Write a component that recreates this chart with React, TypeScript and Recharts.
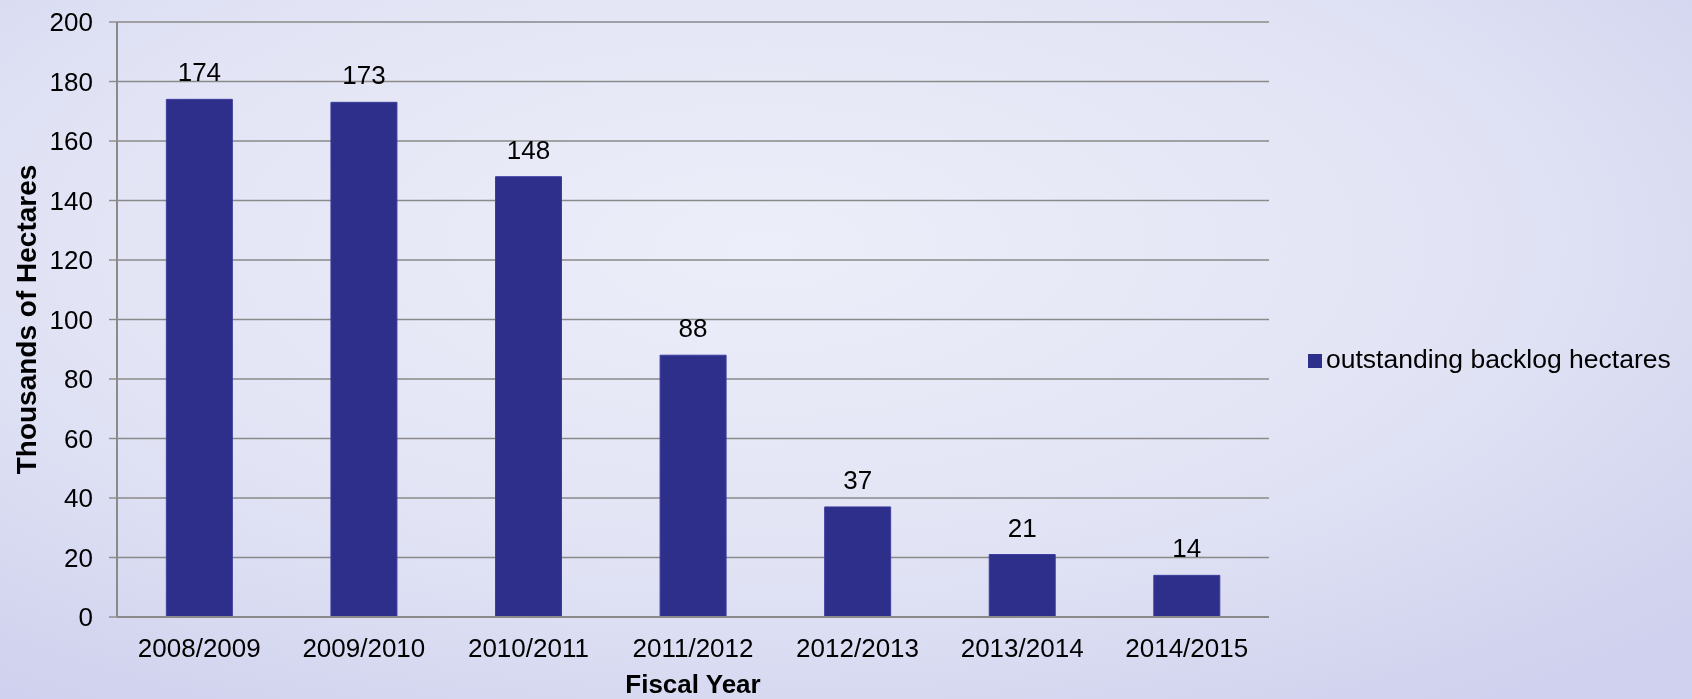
import { Bar, BarChart, CartesianGrid, LabelList, Legend, XAxis, YAxis } from "recharts";

const fiscalYears = ["2008/2009", "2009/2010", "2010/2011", "2011/2012", "2012/2013", "2013/2014", "2014/2015"];
const backlogHectares = [174, 173, 148, 88, 37, 21, 14];
const yTicks = [0, 20, 40, 60, 80, 100, 120, 140, 160, 180, 200];

const data = fiscalYears.map((year, i) => ({ year, backlog: backlogHectares[i] }));

const FONT = '"Liberation Sans", Arial, sans-serif';
const AXIS_GRAY = "#8a8a8a";

export default function App() {
  return (
    <div
      style={{
        position: "fixed",
        left: 0,
        top: 0,
        width: 1692,
        height: 699,
        fontFamily: FONT,
        background:
          "radial-gradient(ellipse 75% 80% at 45% 35%, #eceef9 0%, #e2e4f5 55%, #cfd1ee 100%)",
      }}
    >
      <BarChart
        width={1692}
        height={699}
        data={data}
        margin={{ top: 22, right: 423, bottom: 0, left: 0 }}
        barCategoryGap="30%"
      >
        <CartesianGrid vertical={false} stroke={AXIS_GRAY} strokeWidth={1.4} />
        <XAxis
          dataKey="year"
          height={82}
          interval={0}
          tickLine={false}
          tickSize={6}
          tickMargin={16}
          axisLine={{ stroke: AXIS_GRAY, strokeWidth: 2 }}
          tick={{ fill: "#000", fontSize: 26, fontFamily: FONT }}
          label={{
            value: "Fiscal Year",
            position: "insideBottom",
            offset: 6,
            style: { fill: "#000", fontSize: 26, fontWeight: "bold", fontFamily: FONT },
          }}
        />
        <YAxis
          width={117}
          domain={[0, 200]}
          ticks={yTicks}
          interval={0}
          tickSize={8}
          tickMargin={16}
          tickLine={{ stroke: AXIS_GRAY, strokeWidth: 1.4 }}
          axisLine={{ stroke: AXIS_GRAY, strokeWidth: 2 }}
          tick={{ fill: "#000", fontSize: 26, fontFamily: FONT }}
          label={{
            value: "Thousands of Hectares",
            angle: -90,
            position: "insideLeft",
            offset: 26,
            style: { fill: "#000", fontSize: 28, fontWeight: "bold", fontFamily: FONT, textAnchor: "middle" },
          }}
        />
        <Legend
          layout="horizontal"
          verticalAlign="middle"
          align="center"
          iconType="square"
          iconSize={14}
          wrapperStyle={{ left: 1308, top: 344, width: "auto", fontSize: 26.5, fontFamily: FONT }}
          formatter={() => <span style={{ color: "#000" }}>outstanding backlog hectares</span>}
        />
        <Bar
          dataKey="backlog"
          name="outstanding backlog hectares"
          fill="#2e2e8b"
          stroke="#3d3d9e"
          strokeWidth={1}
          isAnimationActive={false}
        >
          <LabelList
            dataKey="backlog"
            position="top"
            offset={18}
            style={{ fill: "#000", fontSize: 26, fontFamily: FONT }}
          />
        </Bar>
      </BarChart>
    </div>
  );
}
